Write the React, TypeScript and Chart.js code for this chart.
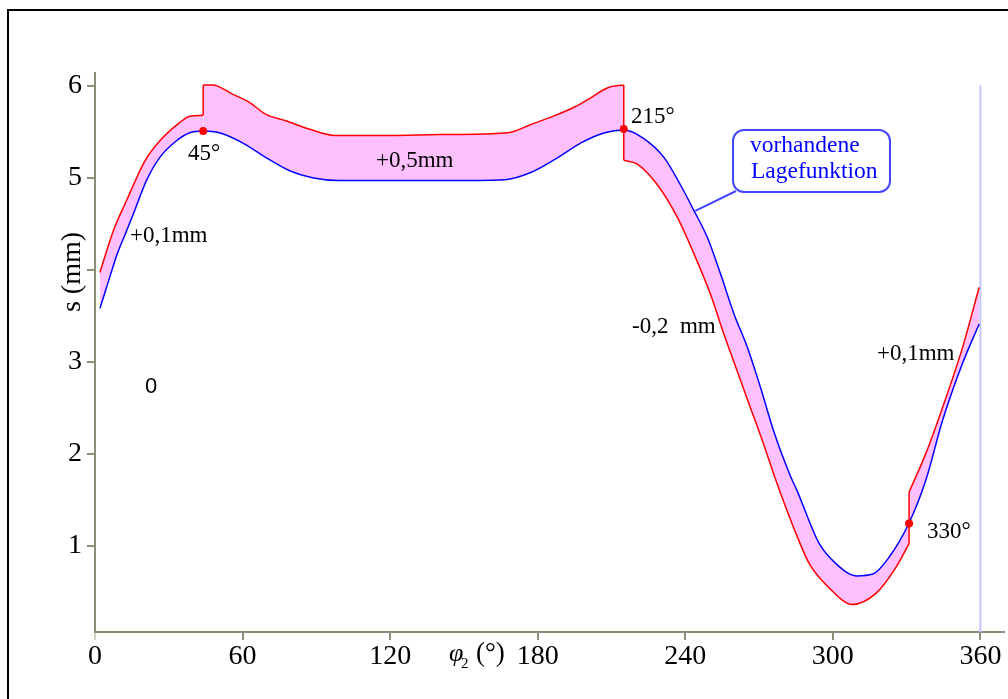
import { useEffect, useRef } from "react";
import { Chart, registerables } from "chart.js";

Chart.register(...registerables);

// ---- data ----
const xTicks = [0, 60, 120, 180, 240, 300, 360];
const yTicks = [1, 2, 3, 4, 5, 6];
const yTickLabels = ["1", "2", "3", "", "5", "6"]; // "4" is hidden behind the axis title

// nominal position function ("vorhandene Lagefunktion") – blue
const blueX = [2, 6, 9, 12.8, 15.5, 20.9, 26.3, 33, 38.5, 44, 50.6, 60, 69.5, 78.9, 88.4, 99, 120, 140, 166.6, 177.4, 188.2, 197.6, 207.2, 215, 223, 231.4, 237.9, 243.6, 249, 254.4, 259.8, 265.2, 270.6, 276, 282.7, 285.4, 294.5, 301.4, 309.5, 316.3, 322.8, 330.9, 337.8, 344.6, 352.7, 359.5];
const blueS = [3.58, 3.92, 4.17, 4.42, 4.6, 4.97, 5.22, 5.4, 5.49, 5.51, 5.49, 5.38, 5.22, 5.08, 5.0, 4.97, 4.97, 4.97, 4.98, 5.06, 5.22, 5.38, 5.49, 5.52, 5.43, 5.22, 4.93, 4.64, 4.35, 3.95, 3.52, 3.16, 2.72, 2.24, 1.76, 1.6, 1.02, 0.8, 0.67, 0.69, 0.87, 1.24, 1.71, 2.36, 2.98, 3.41];

// tolerance limit – red (repeated x = vertical jump)
const redX = [2, 7.4, 12.8, 20.2, 26.3, 34.4, 38.5, 44, 44, 47.8, 55.9, 62.8, 69.5, 77.6, 87, 97.8, 120, 140, 167.9, 177.3, 185.4, 195, 201.6, 208.5, 215, 215, 220.5, 228.5, 236.8, 243.6, 250.3, 255.7, 261.1, 266.5, 271.9, 277, 284, 290.5, 298.5, 308, 317.5, 325.6, 331, 331, 337.8, 344.6, 352.7, 359.5];
const redS = [3.97, 4.42, 4.75, 5.18, 5.4, 5.6, 5.67, 5.68, 6.01, 6.01, 5.91, 5.82, 5.69, 5.62, 5.53, 5.46, 5.46, 5.47, 5.49, 5.58, 5.66, 5.77, 5.87, 5.98, 6.01, 5.19, 5.15, 4.93, 4.57, 4.17, 3.73, 3.3, 2.9, 2.5, 2.1, 1.7, 1.2, 0.8, 0.54, 0.36, 0.48, 0.76, 1.02, 1.58, 2.0, 2.5, 3.15, 3.81];

// marked switching points
const markX = [44, 215, 331];
const markS = [5.51, 5.53, 1.24];

// light vertical limit line at 360°
const limitX = [360, 360];
const limitS = [6.0, 0.06];

type P = { x: number; y: number };
const pts = (xs: number[], ys: number[]): P[] => xs.map((x, i) => ({ x, y: ys[i] }));

// split the red limit into smooth pieces and vertical jumps
function splitRed() {
  const pieces: P[][] = [];
  const jumps: P[][] = [];
  let cur: P[] = [];
  for (let i = 0; i < redX.length; i++) {
    if (i > 0 && redX[i] === redX[i - 1]) {
      pieces.push(cur);
      jumps.push([{ x: redX[i - 1], y: redS[i - 1] }, { x: redX[i], y: redS[i] }]);
      cur = [];
    }
    cur.push({ x: redX[i], y: redS[i] });
  }
  pieces.push(cur);
  return { pieces, jumps };
}

const SERIF = '"Liberation Serif", "DejaVu Serif", serif';
const AXIS = "#8c8c78";
const RED = "#ff0000";
const BLUE = "#0000ff";
const PINK = "#ffc0ff";

type Txt = { t: string; x: number; y: number; font: string; color?: string };
const texts: Txt[] = [
  { t: "45°", x: 188, y: 160, font: `23px ${SERIF}` },
  { t: "+0,1mm", x: 130, y: 242, font: `23px ${SERIF}` },
  { t: "0", x: 145, y: 393, font: `22px "Liberation Sans", Arial, sans-serif` },
  { t: "+0,5mm", x: 376, y: 167, font: `23px ${SERIF}` },
  { t: "215°", x: 631, y: 123, font: `23px ${SERIF}` },
  { t: "-0,2  mm", x: 632, y: 333, font: `23px ${SERIF}` },
  { t: "+0,1mm", x: 877, y: 360, font: `23px ${SERIF}` },
  { t: "330°", x: 927, y: 538, font: `23px ${SERIF}` },
  { t: "vorhandene", x: 750, y: 152, font: `23.5px ${SERIF}`, color: BLUE },
  { t: "Lagefunktion", x: 751, y: 178, font: `23.5px ${SERIF}`, color: BLUE },
];

const decor = {
  id: "decor",
  beforeDraw(chart: any) {
    const ctx = chart.ctx;
    ctx.save();
    ctx.fillStyle = "#ffffff";
    ctx.fillRect(0, 0, chart.width, chart.height);
    ctx.strokeStyle = "#000000";
    ctx.lineWidth = 2;
    ctx.beginPath();
    ctx.moveTo(7, 10);
    ctx.lineTo(chart.width, 10);
    ctx.moveTo(8, 9);
    ctx.lineTo(8, chart.height);
    ctx.stroke();
    ctx.restore();
  },
  afterDatasetsDraw(chart: any) {
    const ctx = chart.ctx;
    const xs = chart.scales.x;
    const ys = chart.scales.y;
    ctx.save();
    // callout leader line from the blue curve to the box
    const px = xs.getPixelForValue(244.1);
    const py = ys.getPixelForValue(4.64);
    ctx.strokeStyle = "#4646ff";
    ctx.lineWidth = 2;
    ctx.beginPath();
    ctx.moveTo(px, py);
    ctx.lineTo(736, 191);
    ctx.stroke();
    // rounded box
    const bx = 733, by = 130, bw = 157, bh = 62, r = 11;
    ctx.beginPath();
    ctx.moveTo(bx + r, by);
    ctx.lineTo(bx + bw - r, by);
    ctx.arcTo(bx + bw, by, bx + bw, by + r, r);
    ctx.lineTo(bx + bw, by + bh - r);
    ctx.arcTo(bx + bw, by + bh, bx + bw - r, by + bh, r);
    ctx.lineTo(bx + r, by + bh);
    ctx.arcTo(bx, by + bh, bx, by + bh - r, r);
    ctx.lineTo(bx, by + r);
    ctx.arcTo(bx, by, bx + r, by, r);
    ctx.closePath();
    ctx.fillStyle = "#ffffff";
    ctx.fill();
    ctx.stroke();

    ctx.textAlign = "left";
    ctx.textBaseline = "alphabetic";
    for (const t of texts) {
      ctx.font = t.font;
      ctx.fillStyle = t.color || "#000000";
      ctx.fillText(t.t, t.x, t.y);
    }

    // y axis title
    ctx.save();
    ctx.translate(73, 272);
    ctx.rotate(-Math.PI / 2);
    ctx.font = `28px ${SERIF}`;
    ctx.fillStyle = "#000000";
    ctx.textAlign = "center";
    ctx.textBaseline = "middle";
    ctx.fillText("s (mm)", 0, 0);
    ctx.restore();

    // x axis title  φ2 (°)
    ctx.fillStyle = "#000000";
    ctx.textAlign = "left";
    ctx.font = `italic 26px ${SERIF}`;
    ctx.fillText("φ", 449, 661);
    ctx.font = `15px ${SERIF}`;
    ctx.fillText("2", 461, 668);
    ctx.font = `27px ${SERIF}`;
    ctx.fillText("(°)", 476, 661);
    ctx.restore();
  },
};

export default function App() {
  const ref = useRef<HTMLCanvasElement | null>(null);

  useEffect(() => {
    if (!ref.current) return;
    const { pieces, jumps } = splitRed();
    const BLUE_INDEX = 1;
    const datasets: any[] = [
      {
        label: "marks",
        data: pts(markX, markS),
        showLine: false,
        pointRadius: 4,
        pointBackgroundColor: RED,
        pointBorderWidth: 0,
        borderColor: RED,
      },
      {
        label: "blue",
        data: pts(blueX, blueS),
        borderColor: BLUE,
        borderWidth: 1.5,
        pointRadius: 0,
        cubicInterpolationMode: "monotone",
        fill: false,
      },
    ];
    pieces.forEach((p, i) =>
      datasets.push({
        label: "red" + i,
        data: p,
        borderColor: RED,
        borderWidth: 1.5,
        pointRadius: 0,
        cubicInterpolationMode: "monotone",
        fill: BLUE_INDEX,
        backgroundColor: PINK,
      })
    );
    jumps.forEach((j, i) =>
      datasets.push({
        label: "jump" + i,
        data: j,
        borderColor: RED,
        borderWidth: 1.5,
        pointRadius: 0,
        fill: false,
      })
    );
    datasets.push({
      label: "limit",
      data: pts(limitX, limitS),
      borderColor: "#c4c4ff",
      borderWidth: 2,
      pointRadius: 0,
      fill: false,
    });

    const chart = new Chart(ref.current, {
      type: "line",
      data: { datasets },
      options: {
        animation: false,
        responsive: false,
        devicePixelRatio: 1,
        layout: { padding: { top: 73, left: 0, right: 0, bottom: 0 } },
        plugins: {
          legend: { display: false },
          tooltip: { enabled: false },
          filler: { drawTime: "beforeDatasetsDraw" },
        },
        scales: {
          x: {
            type: "linear",
            min: 0,
            max: 369.6,
            afterBuildTicks: (s: any) => {
              s.ticks = xTicks.map((v) => ({ value: v }));
            },
            afterFit: (s: any) => {
              s.height = 67;
              s.paddingLeft = 0;
              s.paddingRight = 0;
            },
            border: { display: true, color: AXIS, width: 2 },
            grid: {
              display: true,
              drawOnChartArea: false,
              drawTicks: true,
              tickLength: 8,
              lineWidth: 2,
              color: (c: any) => (c.index === 0 ? "#d2d2c6" : AXIS),
            },
            ticks: {
              autoSkip: false,
              maxRotation: 0,
              padding: 0,
              color: "#000000",
              font: { family: SERIF, size: 28 },
              callback: (v: any) => String(v),
            },
          },
          y: {
            type: "linear",
            min: 0.06,
            max: 6.14,
            afterBuildTicks: (s: any) => {
              s.ticks = yTicks.map((v) => ({ value: v }));
            },
            afterFit: (s: any) => {
              s.width = 95;
              s.paddingTop = 0;
              s.paddingBottom = 0;
            },
            border: { display: true, color: AXIS, width: 2 },
            grid: {
              display: true,
              drawOnChartArea: false,
              drawTicks: true,
              tickLength: 8,
              lineWidth: 2,
              color: AXIS,
            },
            ticks: {
              autoSkip: false,
              padding: 5,
              color: "#000000",
              font: { family: SERIF, size: 28 },
              callback: (v: any) => {
                const i = yTicks.indexOf(Number(v));
                return i >= 0 ? yTickLabels[i] : "";
              },
            },
          },
        },
      },
      plugins: [decor],
    } as any);
    return () => chart.destroy();
  }, []);

  return (
    <div style={{ position: "fixed", left: 0, top: 0, width: 1008, height: 699, overflow: "hidden", background: "#fff" }}>
      <canvas ref={ref} width={1008} height={699} style={{ width: 1008, height: 699, display: "block" }} />
    </div>
  );
}
